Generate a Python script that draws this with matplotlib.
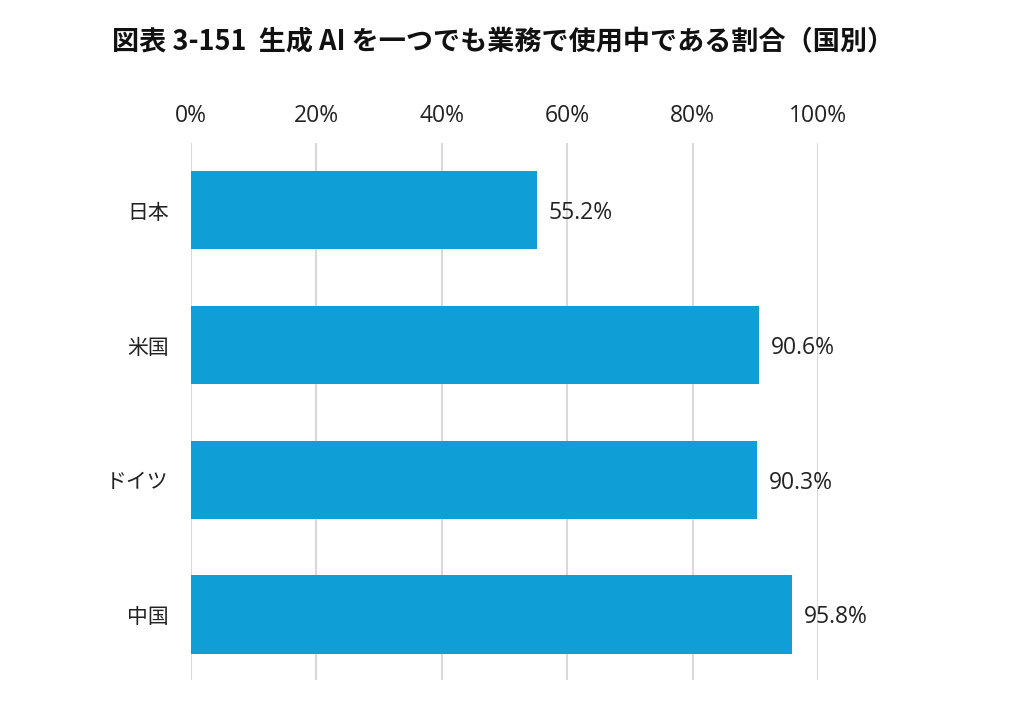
import matplotlib
matplotlib.use("Agg")
import matplotlib.pyplot as plt

plt.rcParams['font.family'] = ['Noto Sans CJK JP', 'DejaVu Sans']

categories = ["日本", "米国", "ドイツ", "中国"]
values = [55.2, 90.6, 90.3, 95.8]
xticks = [0, 20, 40, 60, 80, 100]
xticklabels = ["0%", "20%", "40%", "60%", "80%", "100%"]
title = "図表 3-151  生成 AI を一つでも業務で使用中である割合（国別）"

fig = plt.figure(figsize=(10.24, 7.03), dpi=100)
ax = fig.add_axes([0.1865, 0.0327, 0.6123, 0.764])

ypos = list(range(len(categories)))
ax.barh(ypos, values, height=0.58, color="#109ED6", zorder=3)
for y, v in zip(ypos, values):
    ax.text(v + 1.9, y + 0.02, f"{v:.1f}%", va="center", ha="left", fontsize=16.5,
            color="#222222", family=['Open Sans', 'DejaVu Sans'], zorder=4)

ax.set_xlim(0, 100)
ax.set_ylim(3.486, -0.501)
ax.set_xticks(xticks)
ax.set_xticklabels(xticklabels, fontsize=16.5, color="#222222", family=['Open Sans', 'DejaVu Sans'])
ax.xaxis.tick_top()
ax.tick_params(axis='x', length=0, pad=10.5)
ax.set_yticks(ypos)
ax.set_yticklabels(categories, fontsize=15, color="#222222")
ax.tick_params(axis='y', length=0, pad=16)
ax.grid(axis='x', color="#D9D9D9", linewidth=1.5, zorder=0)
for s in ax.spines.values():
    s.set_visible(False)

fig.text(0.491, 0.940, title, ha="center", va="center", fontsize=19.5, fontweight="bold", color="#111111")

fig.savefig("out.png", dpi=100)
